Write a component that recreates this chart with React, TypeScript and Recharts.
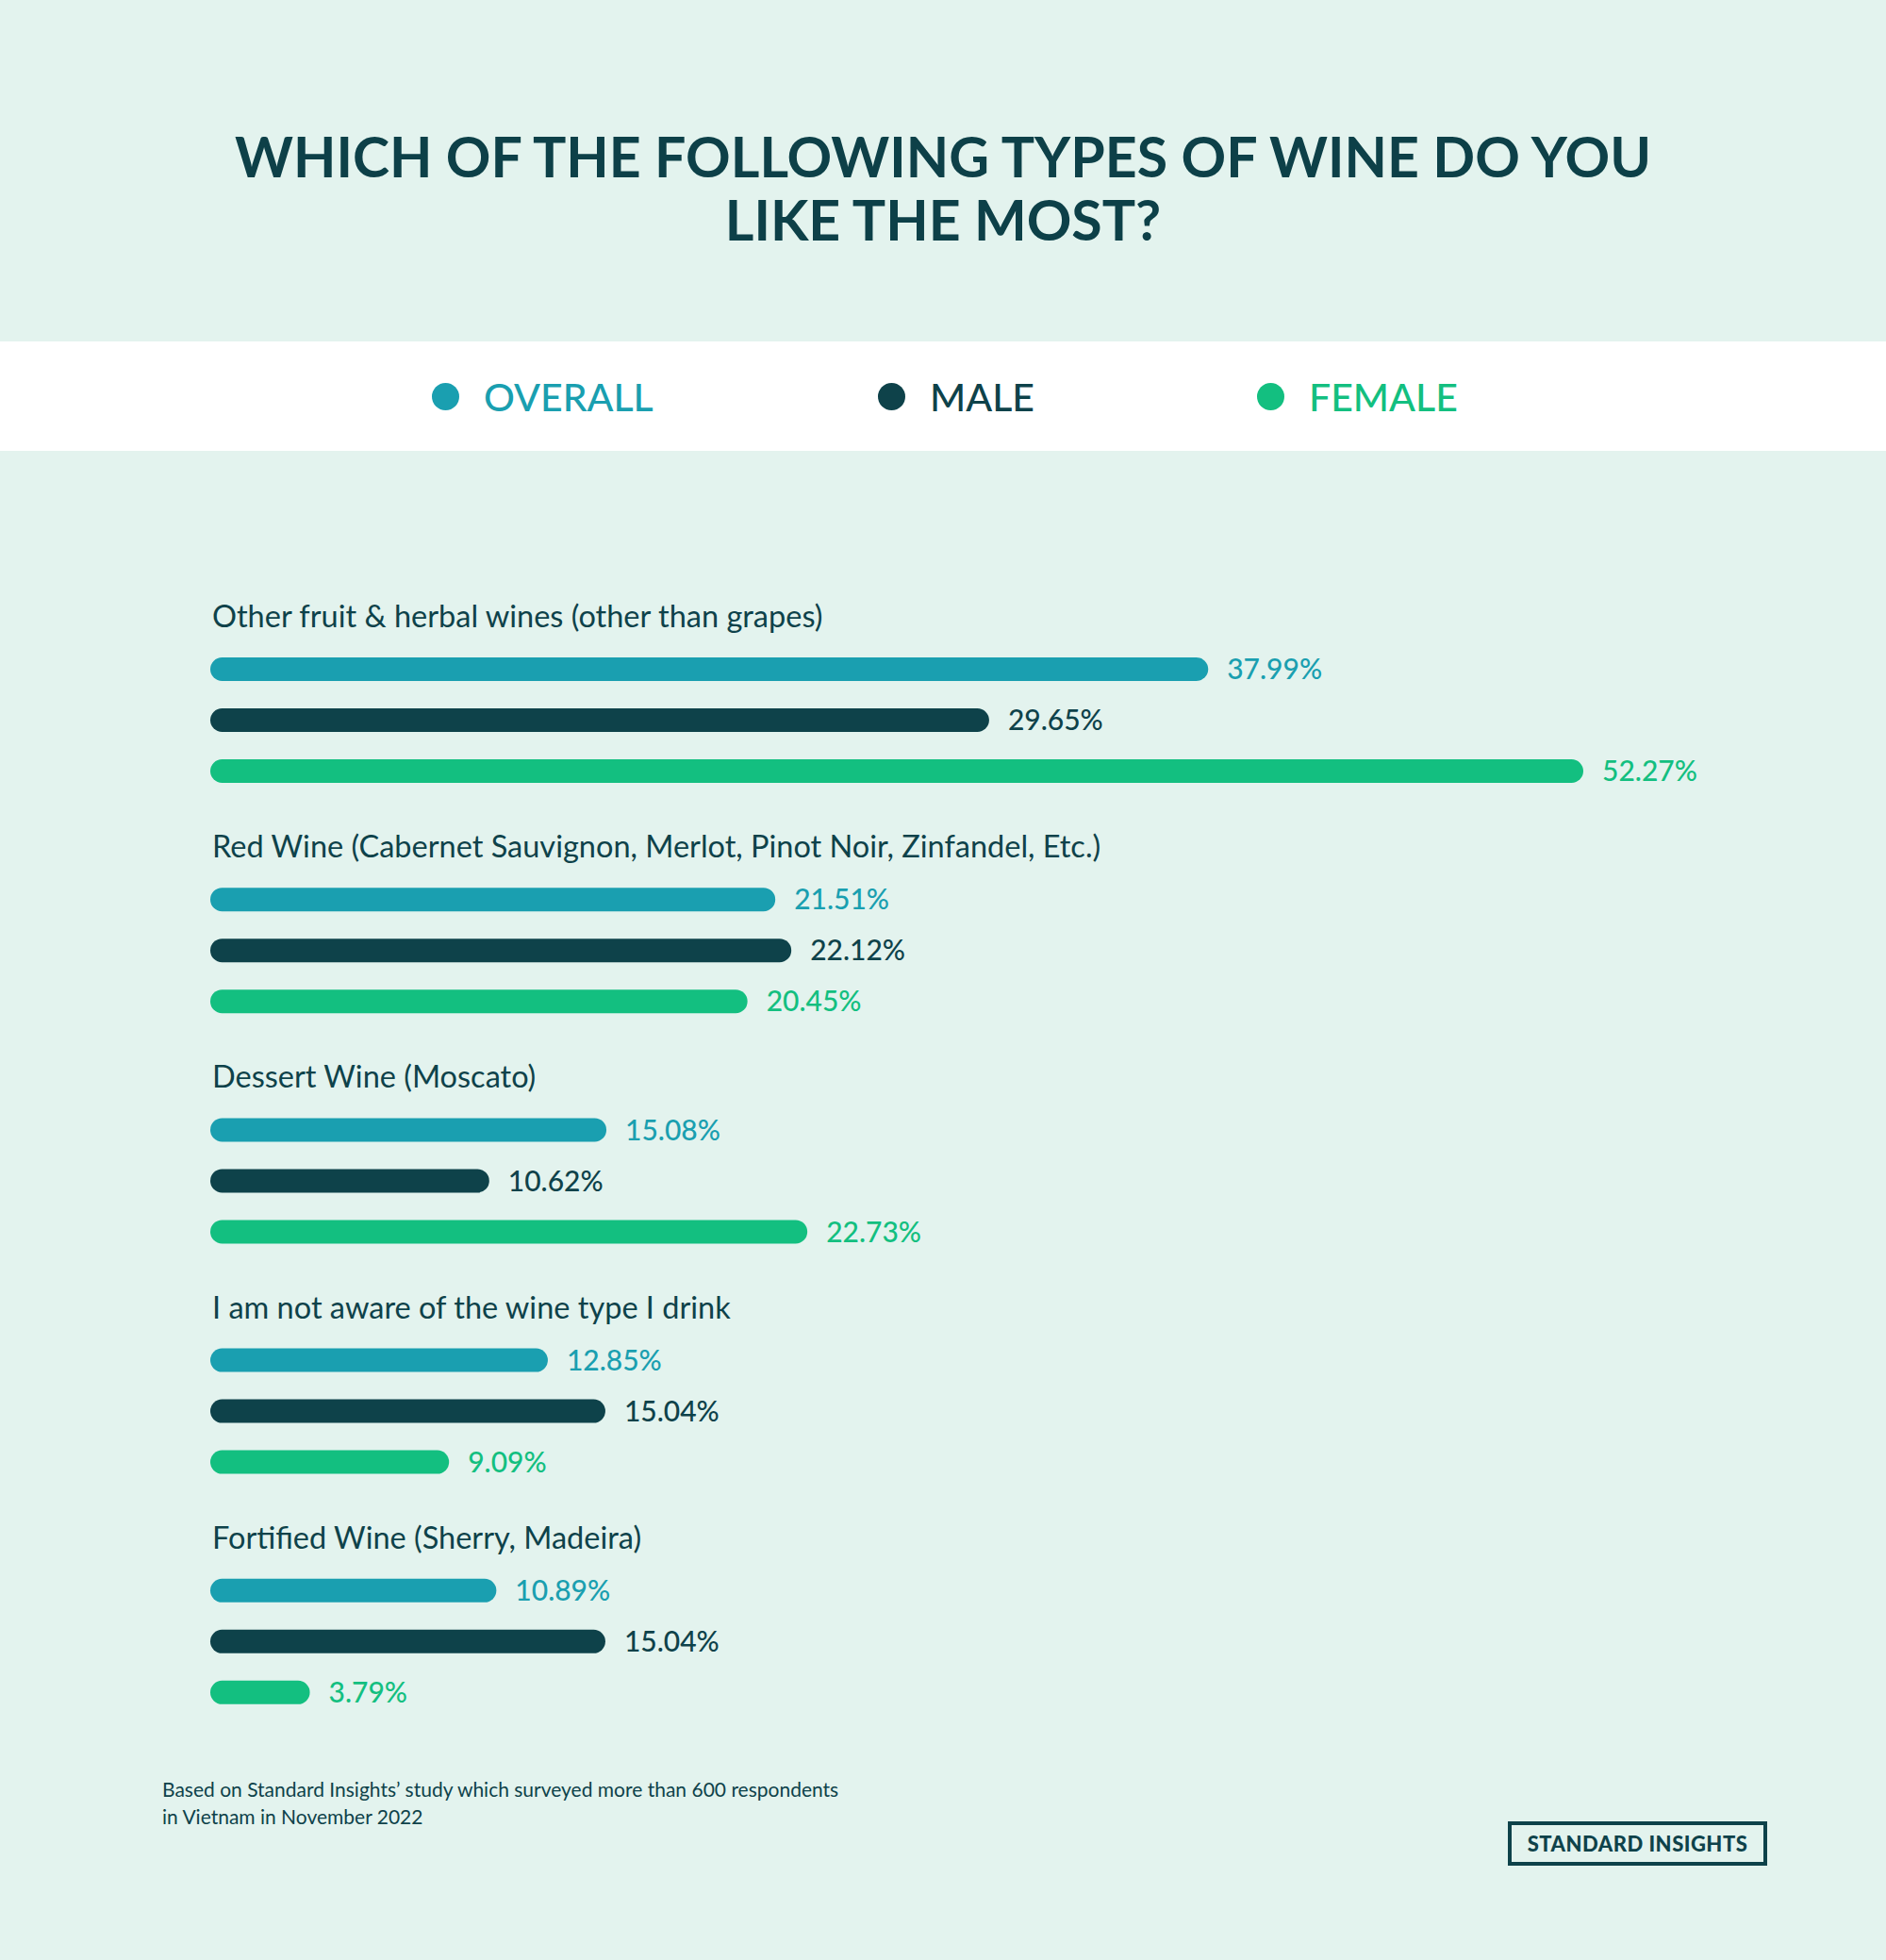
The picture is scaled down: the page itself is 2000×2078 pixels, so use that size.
import { Bar, BarChart, LabelList, XAxis, YAxis } from "recharts";

const categories = [
  "Other fruit & herbal wines (other than grapes)",
  "Red Wine (Cabernet Sauvignon, Merlot, Pinot Noir, Zinfandel, Etc.)",
  "Dessert Wine (Moscato)",
  "I am not aware of the wine type I drink",
  "Fortified Wine (Sherry, Madeira)",
];
const overallValues = [37.99, 21.51, 15.08, 12.85, 10.89];
const maleValues = [29.65, 22.12, 10.62, 15.04, 15.04];
const femaleValues = [52.27, 20.45, 22.73, 9.09, 3.79];

const series = [
  { key: "overall", name: "OVERALL", color: "#1a9fb0" },
  { key: "male", name: "MALE", color: "#0e424a" },
  { key: "female", name: "FEMALE", color: "#13bf80" },
];

const data = categories.map((name, i) => ({
  name,
  overall: overallValues[i],
  male: maleValues[i],
  female: femaleValues[i],
}));

const BG = "#e3f3ee";
const DARK = "#0e424a";
const FONT = "Lato, 'Noto Sans', sans-serif";

const fmt = (v: number) => `${v.toFixed(2)}%`;

// category name drawn above the first (overall) bar of each group
function CategoryLabel(props: any) {
  const { y, height, value } = props;
  return (
    <text
      x={225}
      y={y + height / 2 - 57}
      fill={DARK}
      fontSize={32.5}
      fontFamily={FONT}
      dominantBaseline="central"
    >
      {value}
    </text>
  );
}

export default function App() {
  return (
    <div
      style={{
        position: "absolute",
        left: 0,
        top: 0,
        width: 2000,
        height: 2078,
        background: BG,
        fontFamily: FONT,
        color: DARK,
        overflow: "hidden",
      }}
    >
      <div
        style={{
          position: "absolute",
          top: 132,
          left: 0,
          width: 2000,
          textAlign: "center",
          fontSize: 59,
          fontWeight: 700,
          lineHeight: "67px",
          color: "#0d4048",
        }}
      >
        WHICH OF THE FOLLOWING TYPES OF WINE DO YOU
        <br />
        LIKE THE MOST?
      </div>

      <div
        style={{
          position: "absolute",
          top: 362,
          left: 0,
          width: 2000,
          height: 116,
          background: "#ffffff",
        }}
      >
        {series.map((s, i) => (
          <div
            key={s.key}
            style={{
              position: "absolute",
              left: [458, 931, 1333][i],
              top: 0,
              height: 116,
              display: "flex",
              alignItems: "center",
            }}
          >
            <span
              style={{
                width: 29,
                height: 29,
                borderRadius: "50%",
                background: s.color,
                display: "inline-block",
                marginRight: 26,
              }}
            />
            <span style={{ color: s.color, fontSize: 41, fontWeight: 500 }}>
              {s.name}
            </span>
          </div>
        ))}
      </div>

      <div style={{ position: "absolute", top: 600, left: 0 }}>
        <BarChart
          width={2000}
          height={1303}
          data={data}
          layout="vertical"
          margin={{ top: 41, right: 321, bottom: 41, left: 223 }}
          barSize={25}
          barGap={29}
        >
          <XAxis type="number" domain={[0, 52.27]} hide />
          <YAxis type="category" dataKey="name" hide />
          {series.map((s, si) => (
            <Bar
              key={s.key}
              dataKey={s.key}
              name={s.name}
              fill={s.color}
              radius={[12.5, 12.5, 12.5, 12.5]}
              isAnimationActive={false}
            >
              <LabelList
                dataKey={s.key}
                position="right"
                offset={20}
                fill={s.color}
                fontSize={30}
                fontFamily={FONT}
                fontWeight={500}
                formatter={fmt}
              />
              {si === 0 && (
                <LabelList dataKey="name" content={<CategoryLabel />} />
              )}
            </Bar>
          ))}
        </BarChart>
      </div>

      <div
        style={{
          position: "absolute",
          left: 172,
          top: 1882,
          fontSize: 21,
          lineHeight: "29px",
          color: DARK,
        }}
      >
        Based on Standard Insights’ study which surveyed more than 600 respondents
        <br />
        in Vietnam in November 2022
      </div>

      <div
        style={{
          position: "absolute",
          left: 1599,
          top: 1931,
          width: 275,
          height: 47,
          boxSizing: "border-box",
          border: `4px solid ${DARK}`,
          display: "flex",
          alignItems: "center",
          justifyContent: "center",
          fontSize: 22,
          fontWeight: 900,
          color: DARK,
          letterSpacing: 0.5,
        }}
      >
        STANDARD INSIGHTS
      </div>
    </div>
  );
}
